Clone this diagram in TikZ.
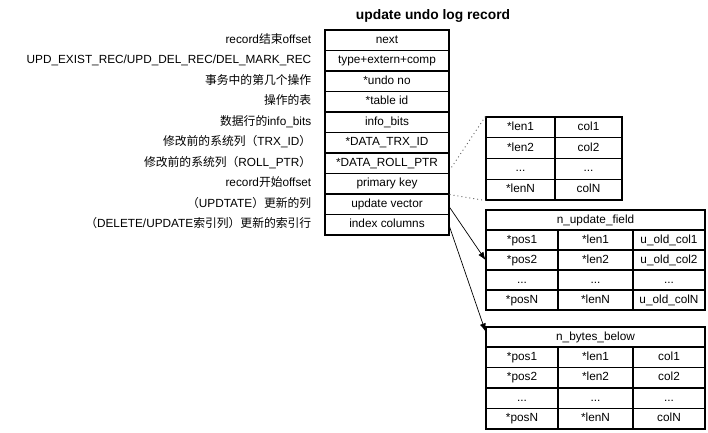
\documentclass[tikz,border=0pt]{standalone}
\usepackage{fontspec}
\setmainfont{Liberation Sans}
\newfontfamily\zhfont{Noto Sans CJK SC}
\newcommand\zh[1]{{\zhfont #1}}
\newcommand\eld{...}
\usetikzlibrary{arrows.meta,positioning}
\tikzset{
  cell/.style={draw, line width=1.1pt, inner sep=0pt, text height=8.7pt, text depth=2.6pt,
    font=\fontsize{11.8}{13}\selectfont},
  mrow/.style={cell, minimum width=124pt, minimum height=20.5pt},
  lbl/.style={inner sep=0pt, anchor=east, text height=8.7pt, text depth=2.6pt,
    font=\fontsize{11.8}{13}\selectfont},
  link/.style={draw=black!60, line width=0.9pt, dash pattern=on 1pt off 3pt},
  arr/.style={line width=0.7pt, -{Latex[length=8pt,width=6pt]}}
}
\begin{document}
\begin{tikzpicture}[x=1pt,y=-1pt]
\useasboundingbox (0,0) rectangle (708,432);
\node[font=\fontsize{13.8}{16}\selectfont\bfseries] (title) at (433,16) {update undo log record};
% main table
\foreach \t [count=\i] in {next, type+extern+comp, *undo no, *table id, info\_bits,
  *DATA\_TRX\_ID, *DATA\_ROLL\_PTR, primary key, update vector, index columns}
  \node[mrow] (m\i) at (387,{30+20.5*(\i-0.5)}) {\t};
% labels
\foreach \t [count=\i] in {record\zh{结束}offset, UPD\_EXIST\_REC/UPD\_DEL\_REC/DEL\_MARK\_REC,
  \zh{事务中的第几个操作}, \zh{操作的表}, \zh{数据行的}info\_bits,
  \zh{修改前的系统列（}TRX\_ID\zh{）}, \zh{修改前的系统列（}ROLL\_PTR\zh{）},
  record\zh{开始}offset, \zh{（}UPDTATE\zh{）更新的列},
  \zh{（}DELETE/UPDATE\zh{索引列）更新的索引行}}
  \node[lbl] (l\i) at ([xshift=-13pt]m\i.west) {\t};
% table 1
\foreach \a/\b [count=\r] in {*len1/col1, *len2/col2, \eld/\eld, *lenN/colN}{
  \node[cell, minimum width=69pt, minimum height=20.75pt] (ta\r) at (520.5,{117+20.75*(\r-0.5)}) {\a};
  \node[cell, minimum width=67pt, minimum height=20.75pt] (tb\r) at (588.5,{117+20.75*(\r-0.5)}) {\b};
}
% table 2
\node[cell, minimum width=219pt, minimum height=20pt] (uh) at (595.5,220) {n\_update\_field};
\foreach \a/\b/\c [count=\r] in {*pos1/*len1/u\_old\_col1, *pos2/*len2/u\_old\_col2, \eld/\eld/\eld, *posN/*lenN/u\_old\_colN}{
  \node[cell, minimum width=72pt, minimum height=20pt] (ua\r) at (522,{230+20*(\r-0.5)}) {\a};
  \node[cell, minimum width=75pt, minimum height=20pt] (ub\r) at (595.5,{230+20*(\r-0.5)}) {\b};
  \node[cell, minimum width=72pt, minimum height=20pt] (uc\r) at (669,{230+20*(\r-0.5)}) {\c};
}
% table 3
\node[cell, minimum width=219pt, minimum height=20pt] (bh) at (595.5,337) {n\_bytes\_below};
\foreach \a/\b/\c [count=\r] in {*pos1/*len1/col1, *pos2/*len2/col2, \eld/\eld/\eld, *posN/*lenN/colN}{
  \node[cell, minimum width=72pt, minimum height=20.5pt] (ba\r) at (522,{347+20.5*(\r-0.5)}) {\a};
  \node[cell, minimum width=75pt, minimum height=20.5pt] (bb\r) at (595.5,{347+20.5*(\r-0.5)}) {\b};
  \node[cell, minimum width=72pt, minimum height=20.5pt] (bc\r) at (669,{347+20.5*(\r-0.5)}) {\c};
}
% connectors
\draw[link] ([xshift=2pt,yshift=-4pt]m7.east) -- (ta1.north west);
\draw[link] (m8.south east) -- (ta4.south west);
\draw[arr] ([yshift=-3pt]m9.east) -- (ua2.west);
\draw[arr] ([yshift=-2pt]m10.east) -- ([yshift=-5pt]bh.north west);
\end{tikzpicture}
\end{document}
